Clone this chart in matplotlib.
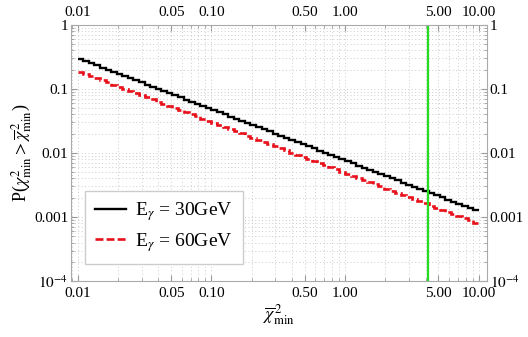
import numpy as np
import matplotlib
matplotlib.use('Agg')
import matplotlib.pyplot as plt
from matplotlib.ticker import FixedLocator, FixedFormatter, LogLocator, NullFormatter

plt.rcParams['font.family'] = ['Liberation Serif', 'DejaVu Serif']
plt.rcParams['mathtext.fontset'] = 'stix'

# bin edges of the step curves (24 bins per decade, 0.01 .. 10)
edges = np.logspace(-2, 1, 73)

# P(chi2_min > chi2bar_min)
p_30gev = [0.2931, 0.2715, 0.2515, 0.2330, 0.2158, 0.1999, 0.1851, 0.1715,
           0.1589, 0.1472, 0.1363, 0.1263, 0.1170, 0.1083, 0.1003, 0.09296,
           0.08610, 0.07976, 0.07387, 0.06843, 0.06339, 0.05871, 0.05439, 0.05038,
           0.04667, 0.04323, 0.04004, 0.03710, 0.03436, 0.03183, 0.02947, 0.02731,
           0.02530, 0.02344, 0.02170, 0.02011, 0.01863, 0.01724, 0.01597, 0.01480,
           0.01371, 0.01270, 0.01176, 0.01090, 0.01009, 0.009348, 0.008660, 0.008021,
           0.007431, 0.006883, 0.006375, 0.005907, 0.005471, 0.005068, 0.004692, 0.004348,
           0.004028, 0.003732, 0.003455, 0.003202, 0.002966, 0.002745, 0.002543, 0.002356,
           0.002183, 0.002022, 0.001872, 0.001735, 0.001607, 0.001488, 0.001379, 0.001277]

p_60gev = [0.1854, 0.1717, 0.1591, 0.1474, 0.1366, 0.1265, 0.1172, 0.1086,
           0.1006, 0.09322, 0.08637, 0.08002, 0.07413, 0.06868, 0.06363, 0.05895,
           0.05462, 0.05061, 0.04688, 0.04344, 0.04025, 0.03729, 0.03455, 0.03201,
           0.02966, 0.02747, 0.02545, 0.02358, 0.02185, 0.02024, 0.01875, 0.01737,
           0.01609, 0.01491, 0.01382, 0.01280, 0.01186, 0.01099, 0.01018, 0.009430,
           0.008737, 0.008096, 0.007499, 0.006949, 0.006438, 0.005965, 0.005527, 0.005120,
           0.004744, 0.004394, 0.004071, 0.003772, 0.003495, 0.003238, 0.002999, 0.002779,
           0.002574, 0.002385, 0.002211, 0.002048, 0.001897, 0.001758, 0.001628, 0.001508,
           0.001398, 0.001295, 0.001200, 0.001112, 0.001030, 0.000954, 0.000884, 0.000819]

cut_value = 4.15

x_ticks = [0.01, 0.05, 0.10, 0.50, 1.00, 5.00, 10.00]
x_labels = ['0.01', '0.05', '0.10', '0.50', '1.00', '5.00', '10.00']
y_ticks = [1e-4, 1e-3, 1e-2, 1e-1, 1]
y_labels = [r'$10^{-4}$', '0.001', '0.01', '0.1', '1']

fig = plt.figure(figsize=(5.28, 3.37), dpi=100)
ax = fig.add_axes([0.1345, 0.166, 0.7875, 0.76])

ax.stairs(p_30gev, edges, baseline=None, color='black', lw=1.7,
          label=r'E$_\gamma$ = 30GeV')
ax.stairs(p_60gev, edges, baseline=None, color='#e8101a', lw=1.9,
          linestyle=(0, (3, 1.2)), label=r'E$_\gamma$ = 60GeV')
ax.axvline(cut_value, color='#22dd22', lw=1.6)

ax.set_xscale('log')
ax.set_yscale('log')
ax.set_xlim(0.0089, 11.5)
ax.set_ylim(1e-4, 1)

ax.xaxis.set_major_locator(FixedLocator(x_ticks))
ax.xaxis.set_major_formatter(FixedFormatter(x_labels))
ax.xaxis.set_minor_locator(LogLocator(base=10, subs=np.arange(1, 10)))
ax.xaxis.set_minor_formatter(NullFormatter())
ax.yaxis.set_major_locator(FixedLocator(y_ticks))
ax.yaxis.set_major_formatter(FixedFormatter(y_labels))
ax.yaxis.set_minor_locator(LogLocator(base=10, subs=np.arange(2, 10)))
ax.yaxis.set_minor_formatter(NullFormatter())

ax.tick_params(which='both', direction='in', top=True, right=True,
               labeltop=True, labelright=True, color='#999999')
ax.tick_params(which='major', length=4, labelsize=11, pad=2)
ax.tick_params(axis='x', which='major', pad=4)
ax.tick_params(which='minor', length=2)
for sp in ax.spines.values():
    sp.set_color('#aaaaaa')

ax.grid(which='both', color='#cccccc', linestyle=(0, (1, 2.5)), lw=0.7)
ax.set_axisbelow(True)

ax.set_xlabel(r'$\overline{\chi}^{\,2}_{\rm min}$', fontsize=13, labelpad=2)
ax.set_ylabel(r'P($\chi^2_{\rm min} > \overline{\chi}^{\,2}_{\rm min}$)', fontsize=13, labelpad=0)

leg = ax.legend(loc='lower left', fontsize=14, handlelength=1.6, handletextpad=0.5,
                borderpad=0.5, labelspacing=0.4, fancybox=False, framealpha=1,
                bbox_to_anchor=(0.01, 0.03))
leg.get_frame().set_edgecolor('#cccccc')

fig.savefig('out.png', dpi=100)
